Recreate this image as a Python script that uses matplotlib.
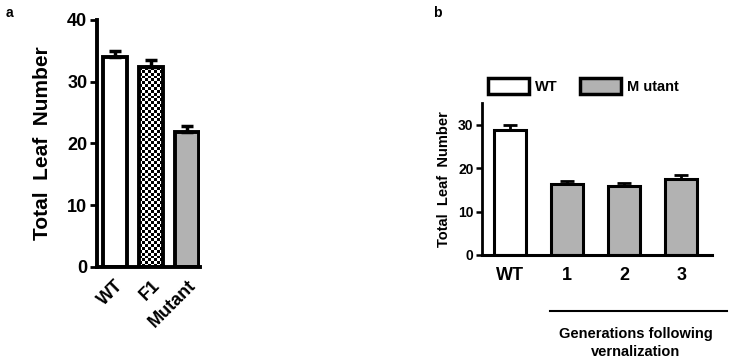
import numpy as np
import matplotlib.pyplot as plt
from matplotlib.lines import Line2D
from matplotlib.patches import Patch

plt.rcParams['font.family'] = ['Liberation Sans', 'DejaVu Sans']
plt.rcParams['font.weight'] = 'bold'
plt.rcParams['axes.labelweight'] = 'bold'

# panel a data
a_labels = ['WT', 'F1', 'Mutant']
a_means = [34.0, 32.3, 21.9]
a_errs = [1.0, 1.2, 0.9]

# panel b data
b_labels = ['WT', '1', '2', '3']
b_means = [28.8, 16.4, 16.0, 17.6]
b_errs = [1.1, 0.6, 0.5, 0.8]
b_groups = ['WT', 'Mutant', 'Mutant', 'Mutant']

grey = '#b2b2b2'

fig = plt.figure(figsize=(7.33, 3.64), dpi=100)

# ---- panel a ----
ax1 = fig.add_axes([0.1323, 0.2665, 0.141, 0.679])
xa = np.arange(len(a_labels))
bars = ax1.bar(xa, a_means, width=0.66, color=['white', 'none', grey],
               edgecolor='black', linewidth=2.8, zorder=2)
ax1.errorbar(xa, a_means, yerr=[np.zeros(3), a_errs], fmt='none', ecolor='black',
             elinewidth=2.5, capsize=4, capthick=2.5, zorder=3)
# checker fill for F1
checker = np.indices((70, 8)).sum(axis=0) % 2
b = bars[1]
im = ax1.imshow(checker, cmap='gray', extent=[b.get_x(), b.get_x() + b.get_width(), 0, b.get_height()],
                aspect='auto', interpolation='nearest', zorder=1.5)
im.set_clip_path(b)
ax1.set_xlim(-0.5, 2.36)
ax1.set_ylim(0, 40)
ax1.set_yticks([0, 10, 20, 30, 40])
ax1.set_xticks(xa)
ax1.set_xticklabels(a_labels, rotation=45, ha='right', rotation_mode='anchor', fontsize=13)
ax1.tick_params(axis='y', labelsize=13, width=2, length=5, pad=2)
ax1.tick_params(axis='x', length=0, pad=7)
ax1.spines['top'].set_visible(False)
ax1.spines['right'].set_visible(False)
ax1.spines['left'].set_linewidth(2.8)
ax1.spines['bottom'].set_linewidth(2.8)
ax1.set_ylabel('Total  Leaf  Number', fontsize=15, labelpad=11)
fig.text(0.007, 0.965, 'a', fontsize=10, fontweight='bold', va='center')

# ---- panel b ----
ax2 = fig.add_axes([0.6576, 0.2995, 0.3138, 0.4175])
xb = np.arange(len(b_labels))
colors = ['white' if g == 'WT' else grey for g in b_groups]
ax2.bar(xb, b_means, width=0.56, color=colors, edgecolor='black', linewidth=2.2, zorder=2)
ax2.errorbar(xb, b_means, yerr=[np.zeros(4), b_errs], fmt='none', ecolor='black',
             elinewidth=2, capsize=5, capthick=2, zorder=3)
ax2.set_xlim(-0.49, 3.54)
ax2.set_ylim(0, 35)
ax2.set_yticks([0, 10, 20, 30])
ax2.set_xticks(xb)
ax2.set_xticklabels(b_labels, fontsize=13)
ax2.tick_params(axis='y', labelsize=10, width=1.8, length=4, pad=2)
ax2.tick_params(axis='x', length=0, pad=9)
ax2.spines['top'].set_visible(False)
ax2.spines['right'].set_visible(False)
ax2.spines['left'].set_linewidth(2)
ax2.spines['bottom'].set_linewidth(2.2)
ax2.set_ylabel('Total  Leaf  Number', fontsize=10.5, labelpad=5)
handles = [Patch(facecolor='white', edgecolor='black', linewidth=2.5, label='WT'),
           Patch(facecolor=grey, edgecolor='black', linewidth=2.5, label='M utant')]
ax2.legend(handles=handles, loc='lower left', bbox_to_anchor=(0.0, 1.02), ncol=2,
           frameon=False, prop={'size': 10.5, 'weight': 'bold'}, handlelength=2.8,
           handleheight=1.3, columnspacing=1.6, handletextpad=0.4, borderaxespad=0)
fig.text(433 / 733, 0.965, 'b', fontsize=10, fontweight='bold', va='center')

fig.add_artist(Line2D([550 / 733, 727 / 733], [1 - 311 / 364, 1 - 311 / 364],
                      color='black', linewidth=1.5))
fig.text(636 / 733, 1 - 343 / 364, 'Generations following\nvernalization',
         ha='center', va='center', fontsize=10.5, linespacing=1.3)

fig.savefig('out.png', dpi=100)
